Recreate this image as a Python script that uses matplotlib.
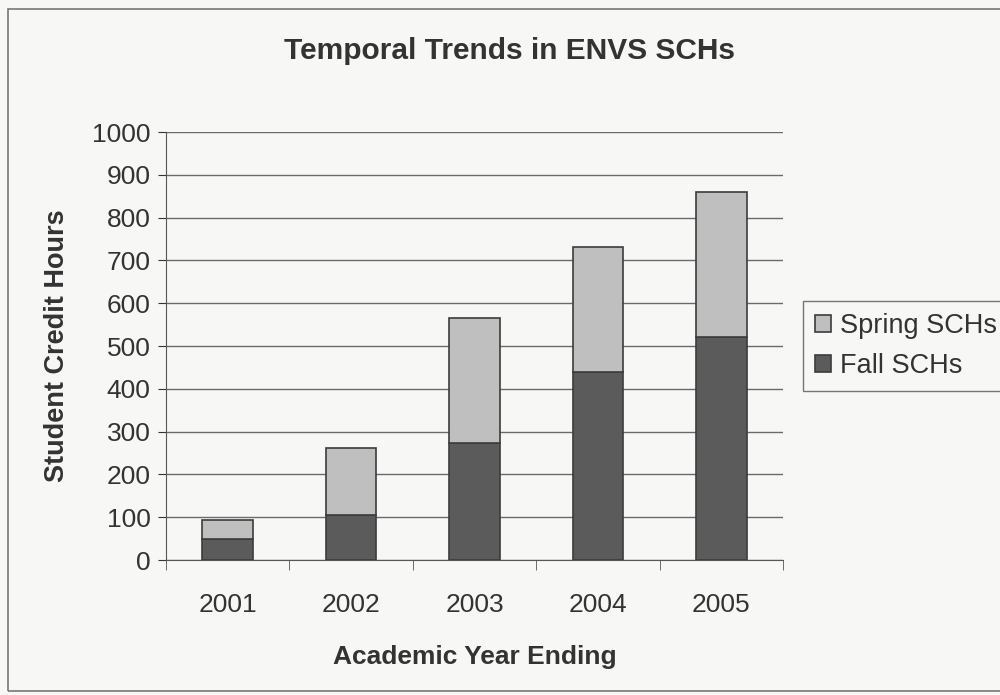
import numpy as np
import matplotlib
matplotlib.use("Agg")
import matplotlib.pyplot as plt
from matplotlib.patches import Rectangle

# chart data
years = ["2001", "2002", "2003", "2004", "2005"]
fall_sch = [50, 105, 273, 439, 521]
spring_sch = [43, 157, 292, 292, 339]

plt.rcParams['font.family'] = ['Liberation Sans', 'DejaVu Sans']

bg = "#f7f7f5"
fig = plt.figure(figsize=(10, 6.95), dpi=100, facecolor=bg)
ax = fig.add_axes([0.166, 1 - 560 / 695, 0.617, 428 / 695])
ax.set_facecolor(bg)

# outer chart border
fig.patches.append(Rectangle((0.008, 0.006), 1.2, 0.981, transform=fig.transFigure,
                             fill=False, edgecolor="#777777", linewidth=1.2))

x = np.arange(len(years))
width = 0.41
ax.bar(x, fall_sch, width, color="#5b5b5b", edgecolor="#3c3c3c", linewidth=1.2,
       label="Fall SCHs", zorder=3)
ax.bar(x, spring_sch, width, bottom=fall_sch, color="#bfbfbf", edgecolor="#3c3c3c",
       linewidth=1.2, label="Spring SCHs", zorder=3)

ax.set_xlim(-0.5, len(years) - 0.5)
ax.set_ylim(0, 1000)
ax.set_yticks(np.arange(0, 1001, 100))
ax.yaxis.grid(True, color="#6a6a6a", linewidth=1.0, zorder=0)
ax.set_xticks(x)
ax.set_xticklabels(years)
ax.tick_params(axis="x", length=0, labelsize=19, pad=24, colors="#333333")
ax.set_xticks(np.arange(-0.5, len(years), 1), minor=True)
ax.tick_params(axis="x", which="minor", length=7, direction="out", color="#555555")
ax.tick_params(axis="y", length=6, direction="out", labelsize=19, colors="#333333",
               pad=5)

for side in ["top", "right"]:
    ax.spines[side].set_visible(False)
ax.spines["left"].set_color("#555555")
ax.spines["bottom"].set_color("#555555")

ax.set_ylabel("Student Credit Hours", fontsize=19.5, fontweight="bold", color="#333333",
              labelpad=16)
ax.set_xlabel("Academic Year Ending", fontsize=19, fontweight="bold", color="#333333",
              labelpad=20)
fig.text(0.51, 0.927, "Temporal Trends in ENVS SCHs", ha="center", va="center",
         fontsize=21.5, fontweight="bold", color="#333333")

handles, labels = ax.get_legend_handles_labels()
leg = fig.legend(handles[::-1], labels[::-1], loc="upper left",
                 bbox_to_anchor=(0.803, 1 - 301 / 695), fontsize=19.5,
                 frameon=True, fancybox=False, handlelength=0.6, handleheight=0.6,
                 handletextpad=0.3, borderpad=0.45, labelspacing=0.5,
                 borderaxespad=0)
leg.get_frame().set_edgecolor("#555555")
leg.get_frame().set_facecolor(bg)
for t in leg.get_texts():
    t.set_color("#333333")

fig.savefig("out.png", dpi=100, facecolor=bg)
